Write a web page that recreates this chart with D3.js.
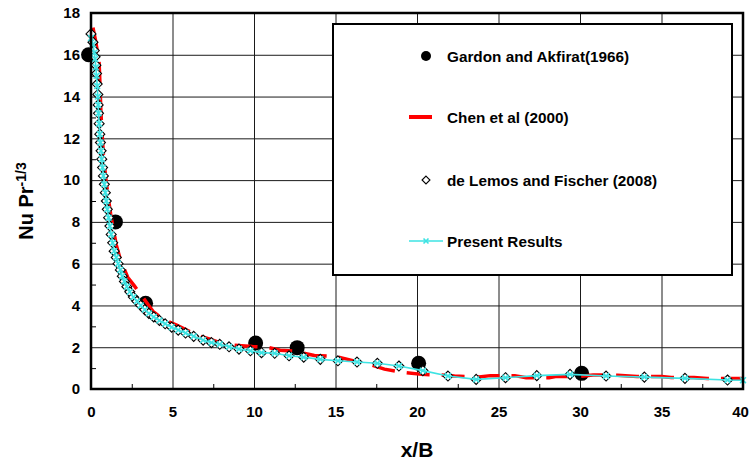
<!DOCTYPE html>
<html>
<head>
<meta charset="utf-8">
<script src="https://cdn.jsdelivr.net/npm/d3@7"></script>
<style>
  html, body { margin: 0; padding: 0; background: #fff; }
  svg { display: block; }
  text { font-family: Arial, "Liberation Sans", sans-serif; font-weight: bold; fill: #000; }
</style>
</head>
<body>
<svg id="chart" width="750" height="461"></svg>
<script>
// Gardon and Akfirat (1966) measurements
const gardonX = [-0.15, 1.5, 3.35, 10.1, 12.65, 20.1, 30.1];
const gardonY = [16.0, 8.0, 4.1, 2.2, 1.98, 1.23, 0.75];

// Chen et al (2000) correlation curve
const chenX = [0.12, 0.3, 0.5, 0.55, 0.6, 0.68, 0.78, 0.92, 1.05, 1.2, 1.38, 1.55, 1.8, 2.25, 2.65, 3.0, 3.4, 3.8, 4.5, 5.25, 6.07, 6.8, 7.3, 7.9, 8.8, 9.9, 10.8, 11.6, 12.4, 13.7, 15.0, 16.0, 17.2, 18.0, 19.3, 20.3, 21.7, 22.3, 23.8, 24.5, 26.0, 26.7, 28.1, 28.5, 29.9, 30.8, 32.3, 33.5, 35.0, 35.6, 37.0, 37.8, 39.4, 40.0];
const chenY = [17.3, 16.6, 15.6, 14.6, 13.4, 12.2, 11.0, 10.0, 9.2, 8.4, 7.6, 6.9, 6.2, 5.35, 4.95, 4.58, 4.15, 3.72, 3.3, 3.06, 2.74, 2.5, 2.38, 2.22, 2.1, 2.03, 2.0, 1.86, 1.82, 1.6, 1.56, 1.37, 1.15, 0.95, 0.78, 0.70, 0.66, 0.62, 0.58, 0.64, 0.64, 0.54, 0.54, 0.60, 0.60, 0.67, 0.66, 0.60, 0.60, 0.55, 0.55, 0.50, 0.50, 0.50];

// de Lemos and Fischer (2008) simulation
const lemosX = [0.0, 0.12, 0.2, 0.25, 0.3, 0.34, 0.38, 0.42, 0.44, 0.46, 0.5, 0.54, 0.58, 0.62, 0.66, 0.71, 0.76, 0.82, 0.88, 0.94, 1.0, 1.08, 1.16, 1.24, 1.33, 1.42, 1.55, 1.66, 1.8, 1.92, 2.05, 2.2, 2.38, 2.6, 2.82, 3.05, 3.3, 3.55, 3.85, 4.2, 4.55, 4.95, 5.35, 5.8, 6.3, 6.88, 7.39, 7.9, 8.47, 9.08, 9.78, 10.46, 11.27, 12.15, 13.05, 14.07, 15.15, 16.32, 17.57, 18.89, 20.36, 21.9, 23.63, 25.43, 27.35, 29.39, 31.6, 33.95, 36.44, 39.05];
const lemosY = [17.0, 16.6, 16.2, 15.9, 15.5, 15.1, 14.6, 14.1, 13.6, 13.2, 12.7, 12.2, 11.8, 11.4, 11.0, 10.6, 10.2, 9.8, 9.4, 9.0, 8.6, 8.2, 7.8, 7.4, 7.0, 6.6, 6.3, 6.0, 5.7, 5.4, 5.15, 4.9, 4.65, 4.4, 4.2, 4.0, 3.8, 3.62, 3.45, 3.28, 3.12, 2.96, 2.82, 2.68, 2.52, 2.34, 2.22, 2.14, 2.02, 1.91, 1.83, 1.74, 1.71, 1.59, 1.52, 1.42, 1.35, 1.29, 1.23, 1.10, 0.88, 0.62, 0.46, 0.54, 0.64, 0.70, 0.62, 0.57, 0.51, 0.43];

// Present results
const presentX = [0.0, 0.12, 0.2, 0.25, 0.3, 0.34, 0.38, 0.42, 0.44, 0.46, 0.5, 0.54, 0.58, 0.62, 0.66, 0.71, 0.76, 0.82, 0.88, 0.94, 1.0, 1.08, 1.16, 1.24, 1.33, 1.42, 1.55, 1.66, 1.8, 1.92, 2.05, 2.2, 2.38, 2.6, 2.82, 3.05, 3.3, 3.55, 3.85, 4.2, 4.55, 4.95, 5.35, 5.8, 6.3, 6.88, 7.39, 7.9, 8.47, 9.08, 9.78, 10.46, 11.27, 12.15, 13.05, 14.07, 15.15, 16.32, 17.57, 18.89, 20.36, 21.9, 23.63, 25.43, 27.35, 29.39, 31.6, 33.95, 36.44, 39.05, 40.0];
const presentY = [16.8, 16.5, 16.1, 15.8, 15.4, 15.0, 14.5, 14.0, 13.6, 13.2, 12.7, 12.2, 11.8, 11.4, 11.0, 10.6, 10.2, 9.8, 9.4, 9.0, 8.6, 8.2, 7.8, 7.4, 7.0, 6.6, 6.3, 6.0, 5.7, 5.4, 5.15, 4.9, 4.65, 4.4, 4.2, 4.0, 3.8, 3.62, 3.45, 3.28, 3.12, 2.96, 2.82, 2.68, 2.52, 2.34, 2.22, 2.14, 2.02, 1.91, 1.83, 1.74, 1.71, 1.59, 1.52, 1.42, 1.35, 1.29, 1.23, 1.10, 0.88, 0.62, 0.46, 0.54, 0.64, 0.70, 0.62, 0.57, 0.51, 0.43, 0.42];

// Axis ticks
const xTicks = [0, 5, 10, 15, 20, 25, 30, 35, 40];
const xMinor = [2.5, 7.5, 12.5, 17.5, 22.5, 27.5, 32.5, 37.5];
const yTicks = [0, 2, 4, 6, 8, 10, 12, 14, 16, 18];
const yMinor = [1, 3, 5, 7, 9, 11, 13, 15, 17];

const legendLabels = ["Gardon and Akfirat(1966)", "Chen et al (2000)", "de Lemos and Fischer (2008)", "Present Results"];

const zip = (xs, ys) => xs.map((x, i) => [x, ys[i]]);

const svg = d3.select("#chart");
const pLeft = 91, pRight = 743, pTop = 13, pBottom = 389;
const FONT = "Arial, 'Liberation Sans', sans-serif";

const x = d3.scaleLinear().domain([0, 40]).range([pLeft, pRight]);
const y = d3.scaleLinear().domain([0, 18]).range([pBottom, pTop]);

// Gridlines
svg.append("g")
  .attr("transform", `translate(0,${pBottom})`)
  .call(d3.axisBottom(x).tickValues(xTicks).tickSize(-(pBottom - pTop)).tickFormat(""))
  .call(g => g.select(".domain").remove())
  .call(g => g.selectAll("line").attr("stroke", "#1a1a1a").attr("stroke-width", 1));
svg.append("g")
  .attr("transform", `translate(${pLeft},0)`)
  .call(d3.axisLeft(y).tickValues(yTicks).tickSize(-(pRight - pLeft)).tickFormat(""))
  .call(g => g.select(".domain").remove())
  .call(g => g.selectAll("line").attr("stroke", "#1a1a1a").attr("stroke-width", 1));

// Minor ticks pointing inward
svg.append("g")
  .attr("transform", `translate(0,${pBottom})`)
  .call(d3.axisBottom(x).tickValues(xMinor).tickSize(-5).tickFormat(""))
  .call(g => g.select(".domain").remove())
  .call(g => g.selectAll("line").attr("stroke", "#000").attr("stroke-width", 1));
svg.append("g")
  .attr("transform", `translate(${pLeft},0)`)
  .call(d3.axisLeft(y).tickValues(yMinor).tickSize(-5).tickFormat(""))
  .call(g => g.select(".domain").remove())
  .call(g => g.selectAll("line").attr("stroke", "#000").attr("stroke-width", 1));

// Tick labels (the last one is nudged so it stays inside the page)
svg.append("g")
  .attr("transform", `translate(0,${pBottom})`)
  .call(d3.axisBottom(x).tickValues(xTicks).tickSize(0).tickPadding(17))
  .call(g => g.select(".domain").remove())
  .call(g => g.selectAll("text").attr("font-size", 15).attr("font-family", FONT).attr("font-weight", "bold").attr("fill", "#000")
    .attr("dx", d => d === 40 ? -3 : 0));
svg.append("g")
  .attr("transform", `translate(${pLeft},0)`)
  .call(d3.axisLeft(y).tickValues(yTicks).tickSize(0).tickPadding(11))
  .call(g => g.select(".domain").remove())
  .call(g => g.selectAll("text").attr("font-size", 15).attr("font-family", FONT).attr("font-weight", "bold").attr("fill", "#000"));

// Legend box (white, covers the grid)
const lg = svg.append("g");
lg.append("rect").attr("x", 333).attr("y", 24).attr("width", 399).attr("height", 251)
  .attr("fill", "#fff").attr("stroke", "#000").attr("stroke-width", 2);

// Series
const plot = svg.append("g");

plot.selectAll("circle.gardon").data(zip(gardonX, gardonY)).join("circle")
  .attr("class", "gardon")
  .attr("cx", d => x(d[0])).attr("cy", d => y(d[1])).attr("r", 7.5)
  .attr("fill", "#000");

plot.append("path").datum(zip(chenX, chenY))
  .attr("fill", "none").attr("stroke", "#ff0000").attr("stroke-width", 3.5)
  .attr("stroke-dasharray", "23 12")
  .attr("d", d3.line().x(d => x(d[0])).y(d => y(d[1])));

const diamond = d3.symbol().type(d3.symbolDiamond2).size(64);
plot.selectAll("path.lemos").data(zip(lemosX, lemosY)).join("path")
  .attr("class", "lemos")
  .attr("transform", d => `translate(${x(d[0])},${y(d[1])})`)
  .attr("d", diamond)
  .attr("fill", "#fff").attr("stroke", "#000").attr("stroke-width", 1.1);

plot.append("path").datum(zip(presentX, presentY))
  .attr("fill", "none").attr("stroke", "#3de3e3").attr("stroke-width", 1.6)
  .attr("d", d3.line().x(d => x(d[0])).y(d => y(d[1])));

const cross = d3.symbol().type(d3.symbolX).size(24);
plot.selectAll("path.present").data(zip(presentX, presentY)).join("path")
  .attr("class", "present")
  .attr("transform", d => `translate(${x(d[0])},${y(d[1])})`)
  .attr("d", cross)
  .attr("fill", "none").attr("stroke", "#3de3e3").attr("stroke-width", 1.6);

// Plot frame
svg.append("rect").attr("x", pLeft).attr("y", pTop).attr("width", pRight - pLeft).attr("height", pBottom - pTop)
  .attr("fill", "none").attr("stroke", "#000").attr("stroke-width", 2.5);

// Legend entries
const lx = 426, tx = 447;
const rows = [56, 117, 180, 241];
lg.raise();
lg.append("circle").attr("cx", lx).attr("cy", rows[0]).attr("r", 5).attr("fill", "#000");
lg.append("line").attr("x1", 409).attr("x2", 432).attr("y1", rows[1]).attr("y2", rows[1])
  .attr("stroke", "#ff0000").attr("stroke-width", 4);
lg.append("path").attr("transform", `translate(${lx},${rows[2]})`).attr("d", d3.symbol().type(d3.symbolDiamond2).size(40))
  .attr("fill", "#fff").attr("stroke", "#000").attr("stroke-width", 1.1);
lg.append("line").attr("x1", 409).attr("x2", 443).attr("y1", rows[3]).attr("y2", rows[3])
  .attr("stroke", "#3de3e3").attr("stroke-width", 1.6);
lg.append("path").attr("transform", `translate(${lx},${rows[3]})`).attr("d", d3.symbol().type(d3.symbolX).size(18))
  .attr("fill", "none").attr("stroke", "#3de3e3").attr("stroke-width", 1.6);
lg.selectAll("text.leg").data(legendLabels).join("text")
  .attr("class", "leg")
  .attr("x", tx).attr("y", (d, i) => rows[i] + 5.5)
  .attr("font-size", 15.3)
  .text(d => d);

// Axis titles
svg.append("text").attr("x", (pLeft + pRight) / 2).attr("y", 457)
  .attr("text-anchor", "middle").attr("font-size", 21).text("x/B");

const yt = svg.append("text")
  .attr("transform", `translate(33,${(pTop + pBottom) / 2}) rotate(-90)`)
  .attr("text-anchor", "middle").attr("font-size", 20);
yt.append("tspan").text("Nu Pr");
yt.append("tspan").attr("font-size", 14).attr("dy", -7).text("-1/3");
</script>
</body>
</html>
